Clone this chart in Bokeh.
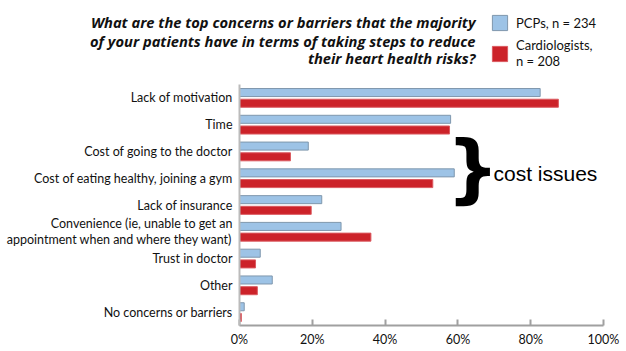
from bokeh.plotting import figure
from bokeh.layouts import column
from bokeh.models import (ColumnDataSource, Range1d, FixedTicker, PrintfTickFormatter,
                          Label, Legend, LegendItem)
from bokeh.core.properties import value
from bokeh.transform import dodge
from bokeh.embed import file_html
from bokeh.resources import INLINE

categories = [
    "Lack of motivation",
    "Time",
    "Cost of going to the doctor",
    "Cost of eating healthy, joining a gym",
    "Lack of insurance",
    "Convenience (ie, unable to get an\nappointment when and where they want)",
    "Trust in doctor",
    "Other",
    "No concerns or barriers",
]
pcps = [82.6, 58.0, 18.9, 59.0, 22.6, 27.9, 5.7, 9.0, 1.3]
cardiologists = [87.6, 57.7, 14.0, 53.1, 19.7, 36.1, 4.4, 4.9, 0.5]
x_ticks = [0, 20, 40, 60, 80, 100]
series_names = ["PCPs, n = 234", "Cardiologists,\nn = 208"]
title_lines = [
    "What are the top concerns or barriers that the majority",
    "of your patients have in terms of taking steps to reduce",
    "their heart health risks?",
]

PCP_FILL, PCP_LINE = "#9DC3E6", "#7F97AD"
CAR_FILL, CAR_LINE = "#CC2229", "#DB5A60"
FONT = "Lato"
NAN = float("nan")

W, H = 626, 351
TOP_H = 84
FL, FR, FT, FB = 239, 603, 84, 325  # frame edges in page pixels

# ---------------- header figure (title + legend) ----------------
p0 = figure(width=W, height=TOP_H, output_backend="svg", toolbar_location=None,
            x_range=Range1d(0, W), y_range=Range1d(TOP_H, 0),
            x_axis_type=None, y_axis_type=None, min_border=0)
p0.outline_line_color = None
p0.grid.visible = False
p0.frame_align = False

title_src = ColumnDataSource(dict(x=[475, 475, 475], y=[21.7, 40, 57.5], text=title_lines))
p0.text(x="x", y="y", text="text", source=title_src, text_align="right",
        text_baseline="alphabetic", text_font=value("Open Sans"), text_font_style="bold italic",
        text_font_size="14.7px", text_color="#111111")

# legend keys (renderers without visible marks, styled like the bars)
leg_pcp = p0.hbar(y=[NAN], right=[NAN], left=0, height=1, fill_color=PCP_FILL, line_color=PCP_LINE)
leg_car = p0.hbar(y=[NAN], right=[NAN], left=0, height=1, fill_color=CAR_FILL, line_color=CAR_LINE)
legend = Legend(items=[LegendItem(label=series_names[0], renderers=[leg_pcp]),
                       LegendItem(label=series_names[1], renderers=[leg_car])],
                location=(490, 15))
legend.border_line_color = None
legend.background_fill_alpha = 0
legend.padding = 0
legend.margin = 0
legend.spacing = 5
legend.glyph_width = 19
legend.glyph_height = 19
legend.label_standoff = 7
legend.label_text_font = FONT
legend.label_text_font_size = "13px"
legend.label_text_color = "#111111"
legend.label_height = 19
legend.label_text_line_height = 1.1
p0.add_layout(legend, "center")

# ---------------- main chart ----------------
positions = list(range(1, len(categories) + 1))
source = ColumnDataSource(dict(y=positions, cat=categories, pcp=pcps, card=cardiologists))

p = figure(width=W, height=H - TOP_H, output_backend="svg", toolbar_location=None,
           x_range=Range1d(0, 100), y_range=Range1d(len(categories) + 0.5, 0.5),
           min_border_left=FL, min_border_right=W - FR, min_border_top=FT - TOP_H,
           min_border_bottom=H - FB)
p.outline_line_color = None
p.grid.visible = False
p.frame_align = False

r_pcp = p.hbar(y=dodge("y", -0.2, range=p.y_range), right="pcp", left=0, height=0.3,
               source=source, fill_color=PCP_FILL, line_color=PCP_LINE, line_width=1)
r_card = p.hbar(y=dodge("y", 0.2, range=p.y_range), right="card", left=0, height=0.3,
                source=source, fill_color=CAR_FILL, line_color=CAR_LINE, line_width=1)

xa = p.xaxis[0]
xa.ticker = FixedTicker(ticks=x_ticks)
xa.formatter = PrintfTickFormatter(format="%d%%")
xa.major_tick_in = 6
xa.major_tick_out = 0
xa.minor_tick_line_color = None
xa.axis_line_color = "#A0A0A0"
xa.axis_line_width = 2
xa.major_tick_line_color = "#A0A0A0"
xa.major_tick_line_width = 2
xa.major_label_text_font = FONT
xa.major_label_text_font_size = "12.5px"
xa.major_label_text_color = "#111111"
xa.major_label_standoff = 6

ya = p.yaxis[0]
ya.ticker = FixedTicker(ticks=positions)
ya.major_label_overrides = {pos: c for pos, c in zip(positions, categories)}
ya.major_tick_line_color = None
ya.minor_tick_line_color = None
ya.major_tick_out = 0
ya.major_tick_in = 0
ya.axis_line_color = "#BBBBBB"
ya.axis_line_width = 2
ya.major_label_text_font = FONT
ya.major_label_text_font_size = "12.5px"
ya.major_label_text_color = "#111111"
ya.major_label_text_line_height = 1.05
ya.major_label_standoff = 7

pxpp = (FR - FL) / 100.0
pypp = (FB - FT) / len(categories)

def dx(px):
    return (px - FL) / pxpp

def dy(py):
    return 0.5 + (py - FT) / pypp

p.add_layout(Label(x=dx(446), y=dy(167), text="}", text_align="left", text_baseline="middle",
                   text_font="DejaVu Sans", text_font_style="bold",
                   text_font_size="74px", text_color="black"))
p.add_layout(Label(x=dx(493), y=dy(173), text="cost issues", text_align="left",
                   text_baseline="alphabetic", text_font="Liberation Sans",
                   text_font_size="21px", text_color="black"))

layout = column(p0, p, spacing=0)
open("out.html", "w").write(file_html(layout, INLINE))
